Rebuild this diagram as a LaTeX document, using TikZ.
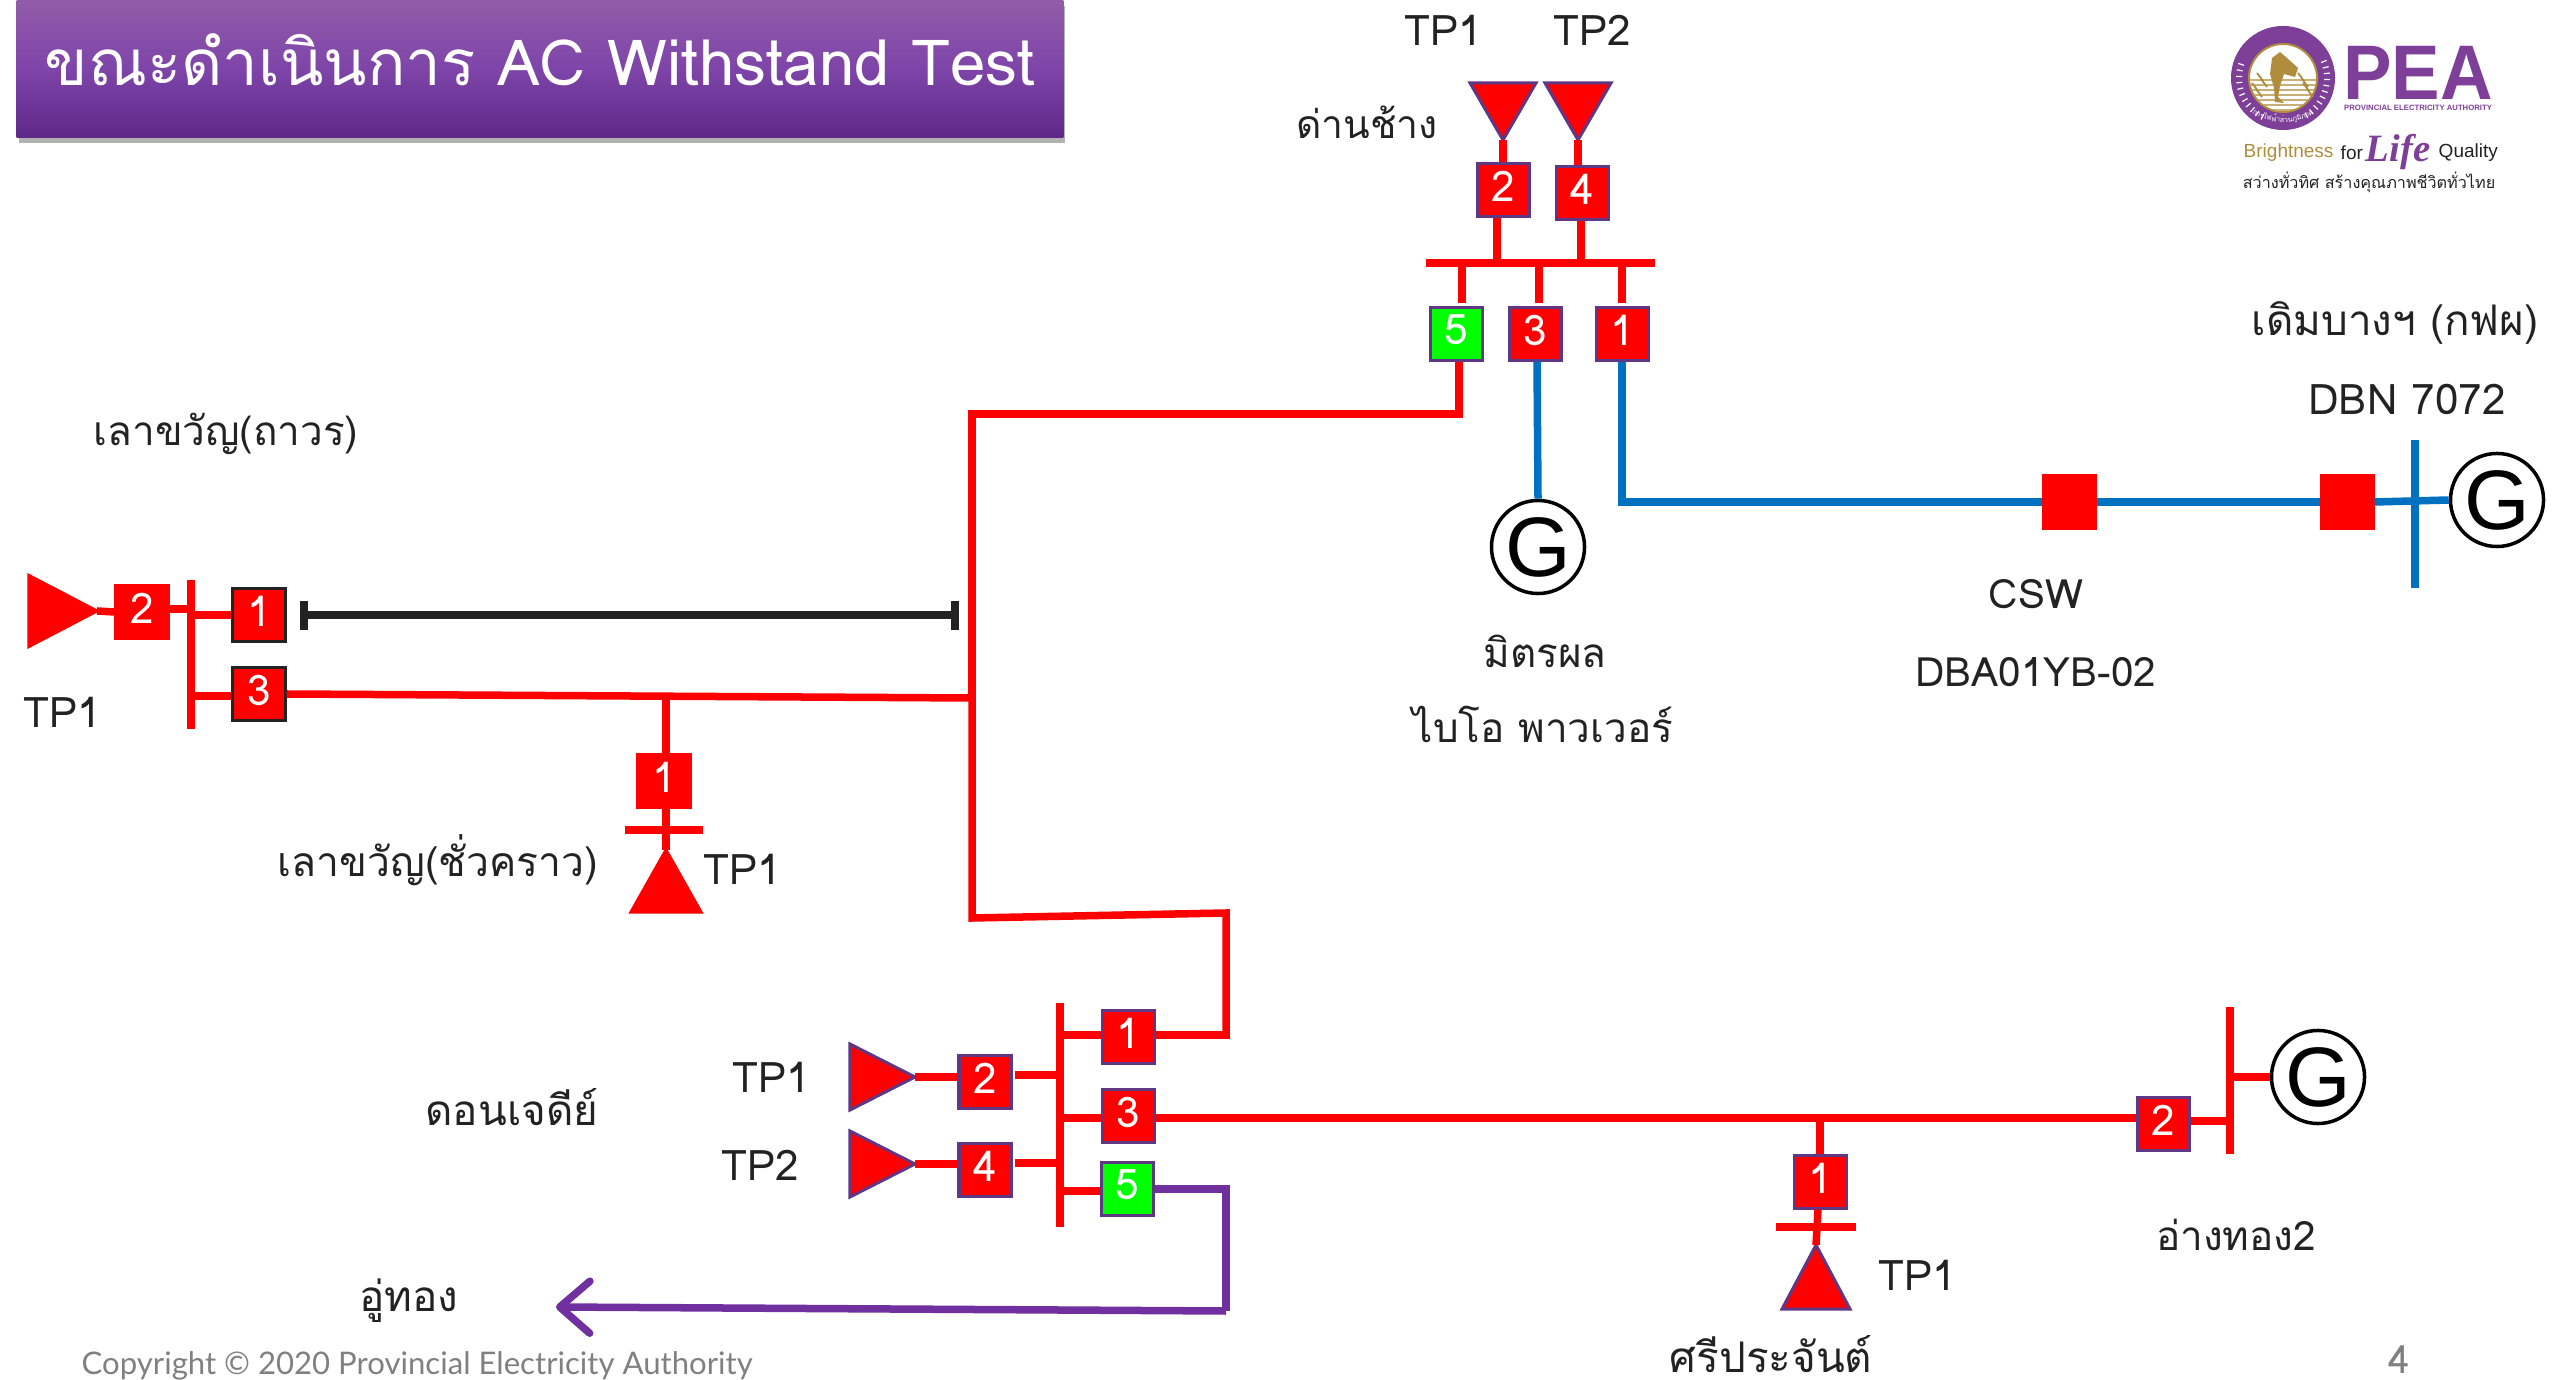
\documentclass[tikz,border=0pt]{standalone}
\usepackage{fontspec}
\usepackage{tikz}
\usetikzlibrary{arrows.meta}
\usetikzlibrary{calc}
\usetikzlibrary{shapes.geometric}
\usetikzlibrary{shadows}
\usetikzlibrary{decorations.text}
\setmainfont[Script=Thai]{Loma}
\newfontfamily\arialfont{Liberation Sans}
\newfontfamily\timesfont{Liberation Serif}
\newfontfamily\latofont{Lato}
\definecolor{boxedge}{HTML}{5F3785}
\definecolor{inkdark}{HTML}{222222}
\definecolor{peablue}{HTML}{0070C0}
\definecolor{peapurple}{HTML}{7030A0}
\definecolor{logopurple}{HTML}{7E3F98}
\definecolor{logogold}{HTML}{B08D3C}
\tikzset{
   swbox/.style={rectangle, draw=boxedge, line width=.03cm, fill=red, text=white, minimum size=.52cm, inner sep=0pt, text depth=.08cm, font=\fontsize{12}{14}\selectfont},
   swoff/.style={swbox, fill=green},
   swdark/.style={swbox, draw=inkdark},
   swplain/.style={swbox, draw=red},
   tpsym/.style={isosceles triangle, isosceles triangle stretches, draw=boxedge, line width=.03cm, fill=red, inner sep=0pt, outer sep=0pt, minimum width=.66cm, minimum height=.65cm},
   tpplain/.style={tpsym, draw=red},
   gen/.style={circle, draw=black, line width=.035cm, fill=white, minimum size=.93cm, inner sep=0pt, font=\arialfont\fontsize{24}{28}\selectfont},
   lbl/.style={text=inkdark, inner sep=0pt, font=\fontsize{12}{15}\selectfont},
   lbs/.style={text=inkdark, inner sep=0pt, font=\fontsize{11.5}{15}\selectfont},
   rl/.style={draw=red, line width=.075cm},
   bl/.style={draw=peablue, line width=.075cm},
   pl/.style={draw=peapurple, line width=.075cm},
   kl/.style={draw=inkdark, line width=.075cm},
}

\begin{document}
\begin{tikzpicture}[x=.01cm, y=-.01cm]
   \useasboundingbox (0,0) rectangle (2552,1380);

   \node[rectangle, minimum width=10.46cm, minimum height=1.37cm, inner sep=0pt, drop shadow={shadow xshift=.02cm, shadow yshift=-.06cm, opacity=.3, fill=black}, top color=logopurple!85!white, bottom color=peapurple!85!black, middle color=peapurple!90!white, text=white, font=\fontsize{18.1}{22}\selectfont] (title) at (540,68.5) {\raisebox{.18cm}{ขณะดำเนินการ AC Withstand Test}};

   \node[tpsym, rotate=-90, anchor=apex, minimum height=.57cm] (dc1) at (1503,140) {};
   \node[tpsym, rotate=-90, anchor=apex, minimum height=.57cm] (dc2) at (1578,140) {};
   \node[swbox] (ds2) at (1503,190) {2};
   \node[swbox] (ds4) at (1582,193) {4};
   \node[swoff] (ds5) at (1456,334) {5};
   \node[swbox] (ds3) at (1535,334) {3};
   \node[swbox] (ds1) at (1622,334) {1};
   \node[fill=red, minimum width=2.29cm, minimum height=.075cm, inner sep=0pt] (dbus) at (1540.5,263) {};
   \node[lbl] (dtp1) at (1443,30) {TP1};
   \node[lbl] (dtp2) at (1592,30) {TP2};
   \node[lbl, font=\fontsize{11.1}{15}\selectfont] (dn) at (1367,122) {ด่านช้าง};

   \node[gen] (gm) at (1538,547) {G};
   \node[lbs] (mn) at (1545,651) {มิตรผล};
   \node[lbs] (bn) at (1543,724) {ไบโอ พาวเวอร์};

   \node[swplain] (cs) at (2069,502) {};
   \node[swplain] (ds) at (2347,502) {};
   \node[fill=peablue, minimum width=.075cm, minimum height=1.48cm, inner sep=0pt] (dbn) at (2415,514) {};
   \node[gen] (gd) at (2497,500) {G};
   \node[lbl] (en) at (2395,323) {เดิมบางฯ (กฟผ)};
   \node[lbl] (dnum) at (2407,399) {DBN 7072};
   \node[lbs] (csn) at (2036,594) {CSW};
   \node[lbs] (cnum) at (2036,672) {DBA01YB-02};

   \node[lbs] (lk) at (226,434) {เลาขวัญ(ถาวร)};
   \node[tpplain, anchor=apex, minimum height=.68cm, minimum width=.71cm] (lt) at (97,611) {};
   \node[swplain] (ls2) at (142,612) {2};
   \node[swdark] (ls1) at (259,615) {1};
   \node[swdark] (ls3) at (259,694) {3};
   \node[fill=red, minimum width=.075cm, minimum height=1.49cm, inner sep=0pt] (lbus) at (191,654.5) {};
   \node[lbl] (ltp) at (62,712) {TP1};

   \node[swplain] (ts1) at (664,781) {1};
   \node[fill=red, minimum width=.78cm, minimum height=.075cm, inner sep=0pt] (tbus) at (664,830) {};
   \node[tpplain, rotate=90, anchor=apex, minimum height=.62cm, minimum width=.7cm] (tt) at (666,850) {};
   \node[lbl] (ttp) at (742,869) {TP1};
   \node[lbs, font=\fontsize{11.6}{15}\selectfont] (tn) at (438,860) {เลาขวัญ(ชั่วคราว)};

   \node[tpsym, anchor=apex] (jt1) at (915,1077) {};
   \node[tpsym, anchor=apex] (jt2) at (915,1164) {};
   \node[swbox] (js2) at (985,1082) {2};
   \node[swbox] (js4) at (985,1170) {4};
   \node[swbox] (js1) at (1128,1037) {1};
   \node[swbox] (js3) at (1128,1116) {3};
   \node[swoff] (js5) at (1127,1189) {5};
   \node[fill=red, minimum width=.075cm, minimum height=2.24cm, inner sep=0pt] (jbus) at (1060,1115) {};
   \node[lbl] (jtp1) at (771,1077) {TP1};
   \node[lbl] (jtp2) at (760,1165) {TP2};
   \node[lbl] (jn) at (512,1107) {ดอนเจดีย์};
   \node[lbl] (un) at (409,1301) {อู่ทอง};

   \node[swbox] (as2) at (2163,1124) {2};
   \node[fill=red, minimum width=.075cm, minimum height=1.47cm, inner sep=0pt] (abus) at (2230,1080.5) {};
   \node[gen] (ag) at (2318,1077) {G};
   \node[lbs] (an) at (2236,1235) {อ่างทอง2};

   \node[swbox] (ss1) at (1820,1182) {1};
   \node[fill=red, minimum width=.8cm, minimum height=.075cm, inner sep=0pt] (sbus) at (1816,1227) {};
   \node[tpsym, rotate=90, anchor=apex, minimum height=.64cm, minimum width=.68cm] (st) at (1816,1245) {};
   \node[lbl] (stp) at (1917,1275) {TP1};
   \node[lbl, anchor=base, text depth=0pt] (sn) at (1771,1372) {ศรีประจันต์};

   \coordinate (b1) at (1622,502);
   \coordinate (r1) at (1459,414);
   \coordinate (r2) at (972,414);
   \coordinate (r3) at (972,698);
   \coordinate (r4) at (972,918);
   \coordinate (r5) at (1226,913);
   \coordinate (r6) at (1226,1035);
   \coordinate (r7) at (1820,1118);
   \coordinate (p1) at (1226,1189);
   \coordinate (p2) at (1226,1311);
   \coordinate (p3) at (556,1307);
   \coordinate (k1) at (304,615);
   \coordinate (k2) at (955,615);

   \draw[rl] (dc1.apex) -- (ds2.north);
   \draw[rl] (dc2.apex) -- (dc2.apex |- ds4.north);
   \draw[rl] ([shift={(-6,0)}]ds2.south) -- ([shift={(-6,0)}]ds2.south |- dbus);
   \draw[rl] ([shift={(-1,0)}]ds4.south) -- ([shift={(-1,0)}]ds4.south |- dbus);
   \draw[rl] ([shift={(6,-3)}]ds5.north) -- ([shift={(6,-3)}]ds5.north |- dbus);
   \draw[rl] ([shift={(4,-3)}]ds3.north) -- ([shift={(4,-3)}]ds3.north |- dbus);
   \draw[rl] ([shift={(0,-3)}]ds1.north) -- ([shift={(0,-3)}]ds1.north |- dbus);
   \draw[rl] ([shift={(3,0)}]ds5.south) -- (r1) -- (r2) -- (r3);
   \draw[bl] ([shift={(2,0)}]ds3.south) -- (gm.north);
   \draw[bl] (ds1.south) -- (b1) -- (cs.west);
   \draw[bl] (cs.east) -- (ds.west);
   \draw[bl] (ds.east) -- (gd.west);

   \draw[rl] (lt.apex) -- (ls2.west);
   \draw[rl] ([shift={(0,-3)}]ls2.east) -- ([shift={(0,-3)}]ls2.east -| lbus);
   \draw[rl] (ls1.west) -- (ls1.west -| lbus);
   \draw[rl] ([shift={(0,2)}]ls3.west) -- ([shift={(0,2)}]ls3.west -| lbus);
   \draw[kl] (k1) -- (k2);
   \draw[kl] ([shift={(0,-14)}]k1) -- ([shift={(0,15)}]k1);
   \draw[kl] ([shift={(0,-14)}]k2) -- ([shift={(0,15)}]k2);
   \draw[rl] (ls3.east) -- (r3) -- (r4) -- (r5) -- (r6) -- ([shift={(0,-2)}]js1.east);
   \draw[rl] (ts1.north) ++(2,0) -- (r3 -| tt.apex);
   \draw[rl] (ts1.south) ++(2,0) -- (tt.apex);

   \draw[rl] (jt1.apex) -- (js2.west |- jt1.apex);
   \draw[rl] (jt2.apex) -- (js4.west |- jt2.apex);
   \draw[rl] ([shift={(2,-7)}]js2.east) -- ([shift={(2,-7)}]js2.east -| jbus);
   \draw[rl] ([shift={(2,-7)}]js4.east) -- ([shift={(2,-7)}]js4.east -| jbus);
   \draw[rl] ([shift={(0,-2)}]js1.west) -- ([shift={(0,-2)}]js1.west -| jbus);
   \draw[rl] ([shift={(0,2)}]js3.west) -- ([shift={(0,2)}]js3.west -| jbus);
   \draw[rl] ([shift={(0,2)}]js5.west) -- ([shift={(0,2)}]js5.west -| jbus);
   \draw[rl] ([shift={(0,2)}]js3.east) -- ([shift={(0,2)}]js3.east -| as2.west);
   \draw[rl] ([shift={(0,-3)}]as2.east) -- ([shift={(0,-3)}]as2.east -| abus);
   \draw[rl] (abus |- ag.west) -- (ag.west);
   \draw[pl] (js5.east) -- (p1) -- (p2);
   \draw[pl, -{Straight Barb[length=.3cm, width=.52cm, line width=.075cm, round]}] (p2) -- (p3);

   \draw[rl] (r7) -- (ss1.north);
   \draw[rl] ([shift={(-2,0)}]ss1.south) -- (st.apex);

   \node[text=gray, inner sep=0pt, anchor=west, font=\latofont\fontsize{8.85}{10}\selectfont] (cr) at (81,1366) {Copyright © 2020 Provincial Electricity Authority};
   \node[text=gray, inner sep=0pt, anchor=base, text depth=0pt, font=\fontsize{11}{13}\selectfont] (pg) at (2399,1373) {4};

   \node[circle, fill=logopurple, minimum size=1.04cm, inner sep=0pt] (seal) at (2283,78) {};
   \foreach \a in {-22,-14,...,62,118,126,...,202} {
      \draw[white, line width=.012cm] ($(seal)+(\a:41)$) -- ($(seal)+(\a:47)$);
   }
   \node[circle, fill=white, draw=logogold, line width=.02cm, minimum size=.68cm, inner sep=0pt] (sealin) at (seal) {};
   \begin{scope}
      \clip (seal) circle[radius=33];
      \foreach \y in {80,85,...,110} {
         \draw[logogold!70!white, line width=.018cm] (2240,\y) -- (2330,\y);
      }
   \end{scope}
   \fill[logogold] (2272,58) -- (2280,52) -- (2287,58) -- (2298,68) -- (2295,77) -- (2284,74) -- (2280,86) -- (2278,97) -- (2284,103) -- (2275,102) -- (2274,88) -- (2270,74) -- cycle;
   \foreach \x/\y in {2262/80, 2257/90, 2303/80, 2308/90} {
      \draw[logogold, line width=.018cm] (\x-5,\y-7) -- (\x+1,\y+1) -- (\x-1,\y-1) -- (\x+5,\y+7);
   }
   \path[decorate, decoration={text along path, text align=center, text={|\fontsize{2}{3}\selectfont\color{white}|การไฟฟ้าส่วนภูมิภาค}}] (2242,105) .. controls (2262,128) and (2304,128) .. (2324,105);
   \node[text=logopurple, inner sep=0pt, xscale=.94, anchor=base, text depth=0pt, font=\arialfont\bfseries\fontsize{22}{24}\selectfont] (pea) at (2418,100) {PEA};
   \node[text=logopurple, inner sep=0pt, font=\arialfont\bfseries\fontsize{2.2}{3}\selectfont] (peaname) at (2418,108) {PROVINCIAL ELECTRICITY AUTHORITY};
   \node[inner sep=0pt, anchor=west, text=logogold, font=\arialfont\fontsize{5.4}{6}\selectfont] (brt) at (2243,153) {Brightness};
   \node[inner sep=0pt, anchor=west, text=inkdark, font=\arialfont\fontsize{5.4}{6}\selectfont] (brf) at (2340,153) {for};
   \node[inner sep=0pt, anchor=west, text=logopurple, font=\timesfont\bfseries\itshape\fontsize{11}{12}\selectfont] (brl) at (2365,152) {Life};
   \node[inner sep=0pt, anchor=west, text=inkdark, font=\arialfont\fontsize{5.4}{6}\selectfont] (brq) at (2438,153) {Quality};
   \node[inner sep=0pt, text=inkdark, font=\fontsize{4.6}{6}\selectfont] (slogan) at (2369,182) {สว่างทั่วทิศ สร้างคุณภาพชีวิตทั่วไทย};
\end{tikzpicture}
\end{document}
